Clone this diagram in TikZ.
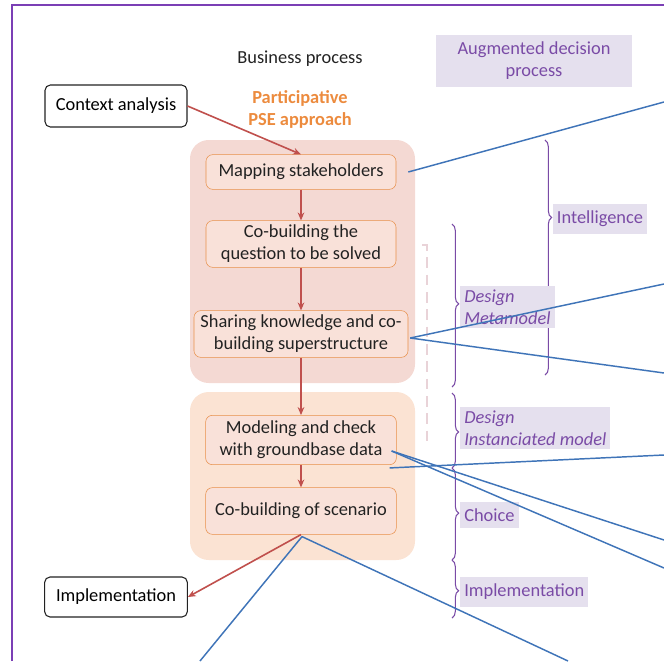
\documentclass[tikz,border=0pt]{standalone}
\usepackage{fontspec}
\setmainfont{Carlito}
\usetikzlibrary{arrows.meta,positioning,decorations.pathreplacing,calc}
\definecolor{frame}{HTML}{7B3FB5}
\definecolor{ink}{HTML}{222222}
\definecolor{redline}{HTML}{C0504D}
\definecolor{blueline}{HTML}{3F74B8}
\definecolor{orangeline}{HTML}{E8904A}
\definecolor{orangetext}{HTML}{EC8B3E}
\definecolor{pinkbg}{HTML}{F4D9D3}
\definecolor{peachbg}{HTML}{FBE3D3}
\definecolor{boxfill}{HTML}{F9E1D9}
\definecolor{lavender}{HTML}{E5E0EE}
\definecolor{purpletext}{HTML}{7A4BA6}
\definecolor{dashpink}{HTML}{E9D3D8}

\begin{document}
\begin{tikzpicture}[x=0.75pt,y=-0.75pt,
  every node/.style={font=\fontsize{13.8}{16.5}\selectfont},
  outerbox/.style={draw=ink,thick,rounded corners=4pt,fill=white,inner sep=0pt},
  stagebox/.style={draw=orangeline,fill=boxfill,rounded corners=5pt,align=center,inner sep=0pt,text=ink},
  flow/.style={redline,line width=1.2pt,-{Stealth[length=6pt,width=5pt]}},
  link/.style={blueline,line width=1.1pt},
  tag/.style={fill=lavender,text=purpletext,align=left,inner xsep=3pt,inner ysep=5pt},
  curly/.style={purpletext,thick,decorate,decoration={brace,amplitude=5pt,aspect=#1}}]
  \useasboundingbox (0,0) rectangle (664,661);
  % frame
  \draw[frame,line width=1.6pt] (12,661) -- (12,5) -- (664,5);

  % headings
  \node[text=ink] (business) at (300,59) {Business process};
  \node[text=orangetext,font=\bfseries\fontsize{13.8}{16.5}\selectfont,align=center] (pse) at (300,109)
       {Participative\\PSE approach};
  \node[tag,align=center,minimum width=147pt,minimum height=38pt] (augmented) at (534,61)
       {Augmented decision\\process};

  % panels
  \fill[pinkbg,rounded corners=14pt] (190,140) rectangle (415,383);
  \fill[peachbg,rounded corners=14pt] (190,392) rectangle (415,560);

  % stages
  \node[outerbox,minimum width=106.5pt,minimum height=31.5pt] (context) at (116,106) {Context analysis};
  \node[outerbox,minimum width=107pt,minimum height=30pt] (implementation) at (116,597) {Implementation};
  \node[stagebox,minimum width=142.5pt,minimum height=26pt] (mapping) at (301,172) {Mapping stakeholders};
  \node[stagebox,minimum width=142.5pt,minimum height=35pt] (question) at (301,244)
       {Co-building the\\question to be solved};
  \node[stagebox,minimum width=160.5pt,minimum height=35pt] (sharing) at (301,334)
       {Sharing knowledge and co-\\building superstructure};
  \node[stagebox,minimum width=143pt,minimum height=37pt] (modeling) at (301,440)
       {Modeling and check\\with groundbase data};
  \node[stagebox,minimum width=143pt,minimum height=35pt] (scenario) at (301,511) {Co-building of scenario};

  \draw[flow] (context.east) -- (mapping.north);
  \draw[flow] (mapping) -- (question);
  \draw[flow] (question) -- (sharing);
  \draw[flow] (sharing) -- (modeling);
  \draw[flow] (modeling) -- (scenario);
  \draw[flow] (scenario.south) -- (implementation.east);

  % dashed marker
  \draw[dashpink,line width=2pt,dash pattern=on 8pt off 5pt] (422,245) -- (427,245) -- (427,442);

  % decision phases
  \draw[curly=0.33] (545,140) -- (545,375);
  \draw[curly=0.49] (452,224) -- (452,387);
  \draw[curly=0.52] (452,393) -- (452,468);
  \draw[curly=0.49] (452,468) -- (452,560);
  \draw[curly=0.53] (452,560) -- (452,618);
  \node[tag] (intelligence) at (600,219) {Intelligence};
  \node[tag,anchor=west,inner ysep=3pt,font=\itshape\fontsize{13.8}{16.5}\selectfont] (metamodel) at (460,307) {Design\\Metamodel};
  \node[tag,anchor=west,inner ysep=3pt,font=\itshape\fontsize{13.8}{16.5}\selectfont] (instmodel) at (460,428) {Design\\Instanciated model};
  \node[tag,anchor=west] (choice) at (460,515) {Choice};
  \node[tag,anchor=west] (impl) at (460,592) {Implementation};

  % links to the right
  \coordinate (r1) at (664,102);
  \coordinate (r2) at (664,284);
  \coordinate (r3) at (664,373);
  \coordinate (r4) at (664,455);
  \coordinate (r5) at (664,540);
  \coordinate (r6) at (664,568);
  \coordinate (b1) at (200,661);
  \coordinate (b2) at (568,661);
  \draw[link] ($(mapping.east)+(12,0)$) -- (r1);
  \draw[link] ($(sharing.east)+(2,4)$) -- (r2);
  \draw[link] ($(sharing.east)+(2,4)$) -- (r3);
  \draw[link] ($(modeling.south east)+(-7,3)$) -- (r4);
  \draw[link] ($(modeling.east)+(-5,11)$) -- (r5);
  \draw[link] ($(modeling.east)+(-5,11)$) -- (r6);
  \draw[link] ($(scenario.south)+(1,2)$) -- (b1);
  \draw[link] ($(scenario.south)+(1,2)$) -- (b2);
\end{tikzpicture}
\end{document}
